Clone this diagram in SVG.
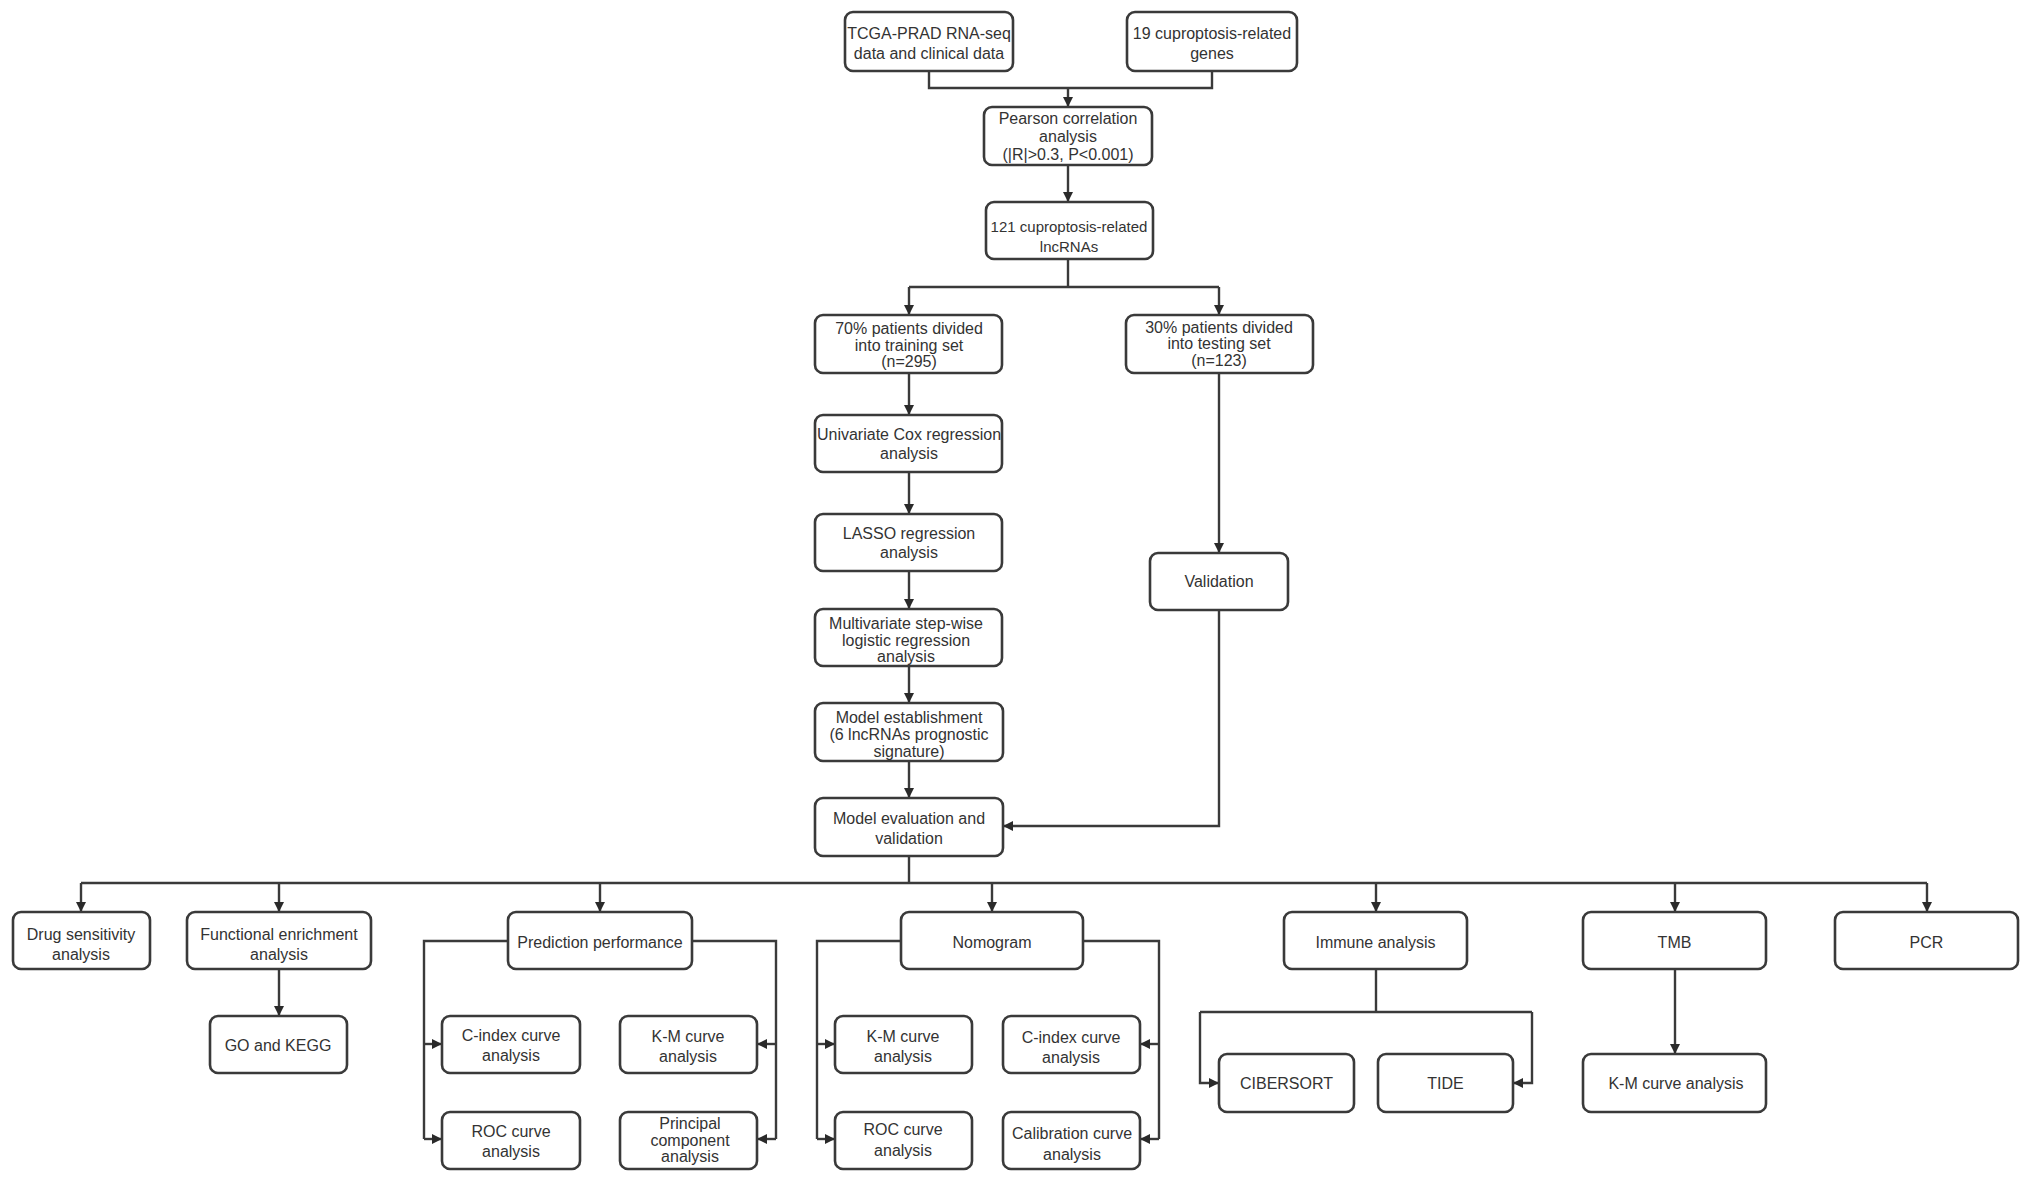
<svg xmlns="http://www.w3.org/2000/svg" width="2032" height="1181" viewBox="0 0 2032 1181">
<style>
.box{fill:#ffffff;stroke:#3a3a3a;stroke-width:2.6}
.t{font-family:"Liberation Sans",Arial,Helvetica,sans-serif;font-size:16px;fill:#333333;text-anchor:middle}
.s{font-size:15px}
.c{fill:none;stroke:#3a3a3a;stroke-width:2.4}
</style>
<defs>
<marker id="ah" viewBox="0 0 10 10" refX="10" refY="5" markerWidth="10" markerHeight="10" markerUnits="userSpaceOnUse" orient="auto">
<path d="M0,0 L10,5 L0,10 z" fill="#2a2a2a"/>
</marker>
</defs>
<rect width="2032" height="1181" fill="#ffffff"/>
<g id="connectors">
<path class="c" d="M929,71 V88 H1212 V71"/>
<path class="c" d="M1068,88 V107" marker-end="url(#ah)"/>
<path class="c" d="M1068,165 V202" marker-end="url(#ah)"/>
<path class="c" d="M1068,259 V287"/>
<path class="c" d="M909,287 H1219"/>
<path class="c" d="M909,287 V315" marker-end="url(#ah)"/>
<path class="c" d="M1219,287 V315" marker-end="url(#ah)"/>
<path class="c" d="M909,373 V415" marker-end="url(#ah)"/>
<path class="c" d="M909,472 V514" marker-end="url(#ah)"/>
<path class="c" d="M909,571 V609" marker-end="url(#ah)"/>
<path class="c" d="M909,666 V703" marker-end="url(#ah)"/>
<path class="c" d="M909,761 V798" marker-end="url(#ah)"/>
<path class="c" d="M1219,373 V553" marker-end="url(#ah)"/>
<path class="c" d="M1219,610 V826 H1003" marker-end="url(#ah)"/>
<path class="c" d="M909,856 V883"/>
<path class="c" d="M81,883 H1927"/>
<path class="c" d="M81,883 V912" marker-end="url(#ah)"/>
<path class="c" d="M279,883 V912" marker-end="url(#ah)"/>
<path class="c" d="M600,883 V912" marker-end="url(#ah)"/>
<path class="c" d="M992,883 V912" marker-end="url(#ah)"/>
<path class="c" d="M1376,883 V912" marker-end="url(#ah)"/>
<path class="c" d="M1675,883 V912" marker-end="url(#ah)"/>
<path class="c" d="M1927,883 V912" marker-end="url(#ah)"/>
<path class="c" d="M279,969 V1016" marker-end="url(#ah)"/>
<path class="c" d="M508,941 H424 V1139"/>
<path class="c" d="M424,1044 H442" marker-end="url(#ah)"/>
<path class="c" d="M424,1139 H442" marker-end="url(#ah)"/>
<path class="c" d="M692,941 H776 V1139"/>
<path class="c" d="M776,1044 H757" marker-end="url(#ah)"/>
<path class="c" d="M776,1139 H757" marker-end="url(#ah)"/>
<path class="c" d="M901,941 H817 V1139"/>
<path class="c" d="M817,1044 H835" marker-end="url(#ah)"/>
<path class="c" d="M817,1139 H835" marker-end="url(#ah)"/>
<path class="c" d="M1083,941 H1159 V1139"/>
<path class="c" d="M1159,1044 H1140" marker-end="url(#ah)"/>
<path class="c" d="M1159,1139 H1140" marker-end="url(#ah)"/>
<path class="c" d="M1376,969 V1012"/>
<path class="c" d="M1200,1012 H1532"/>
<path class="c" d="M1200,1012 V1083 H1219" marker-end="url(#ah)"/>
<path class="c" d="M1532,1012 V1083 H1513" marker-end="url(#ah)"/>
<path class="c" d="M1675,969 V1054" marker-end="url(#ah)"/>
</g>
<g id="n-tcga"><rect class="box" x="845" y="12" width="168" height="59" rx="8"/><text class="t"><tspan x="929" y="39">TCGA-PRAD RNA-seq</tspan><tspan x="929" y="59">data and clinical data</tspan></text></g>
<g id="n-genes"><rect class="box" x="1127" y="12" width="170" height="59" rx="8"/><text class="t"><tspan x="1212" y="39">19 cuproptosis-related</tspan><tspan x="1212" y="59">genes</tspan></text></g>
<g id="n-pearson"><rect class="box" x="984" y="107" width="168" height="58" rx="8"/><text class="t"><tspan x="1068" y="123.5">Pearson correlation</tspan><tspan x="1068" y="141.5">analysis</tspan><tspan x="1068" y="159.5">(|R|&gt;0.3, P&lt;0.001)</tspan></text></g>
<g id="n-lnc"><rect class="box" x="986" y="202" width="167" height="57" rx="8"/><text class="t s"><tspan x="1069" y="231.5">121 cuproptosis-related</tspan><tspan x="1069" y="251.5">lncRNAs</tspan></text></g>
<g id="n-train"><rect class="box" x="815" y="315" width="187" height="58" rx="8"/><text class="t"><tspan x="909" y="334">70% patients divided</tspan><tspan x="909" y="350.5">into training set</tspan><tspan x="909" y="367">(n=295)</tspan></text></g>
<g id="n-test"><rect class="box" x="1126" y="315" width="187" height="58" rx="8"/><text class="t"><tspan x="1219" y="332.5">30% patients divided</tspan><tspan x="1219" y="349">into testing set</tspan><tspan x="1219" y="365.5">(n=123)</tspan></text></g>
<g id="n-univ"><rect class="box" x="815" y="415" width="187" height="57" rx="8"/><text class="t"><tspan x="909" y="440">Univariate Cox regression</tspan><tspan x="909" y="459">analysis</tspan></text></g>
<g id="n-lasso"><rect class="box" x="815" y="514" width="187" height="57" rx="8"/><text class="t"><tspan x="909" y="539">LASSO regression</tspan><tspan x="909" y="558">analysis</tspan></text></g>
<g id="n-multi"><rect class="box" x="815" y="609" width="187" height="57" rx="8"/><text class="t"><tspan x="906" y="629">Multivariate step-wise</tspan><tspan x="906" y="645.5">logistic regression</tspan><tspan x="906" y="662">analysis</tspan></text></g>
<g id="n-valid"><rect class="box" x="1150" y="553" width="138" height="57" rx="8"/><text class="t" x="1219" y="587">Validation</text></g>
<g id="n-model"><rect class="box" x="815" y="703" width="188" height="58" rx="8"/><text class="t"><tspan x="909" y="723">Model establishment</tspan><tspan x="909" y="740">(6 lncRNAs prognostic</tspan><tspan x="909" y="756.5">signature)</tspan></text></g>
<g id="n-eval"><rect class="box" x="815" y="798" width="188" height="58" rx="8"/><text class="t"><tspan x="909" y="824">Model evaluation and</tspan><tspan x="909" y="844">validation</tspan></text></g>
<g id="n-drug"><rect class="box" x="13" y="912" width="137" height="57" rx="8"/><text class="t"><tspan x="81" y="940">Drug sensitivity</tspan><tspan x="81" y="960">analysis</tspan></text></g>
<g id="n-func"><rect class="box" x="187" y="912" width="184" height="57" rx="8"/><text class="t"><tspan x="279" y="940">Functional enrichment</tspan><tspan x="279" y="960">analysis</tspan></text></g>
<g id="n-go"><rect class="box" x="210" y="1016" width="137" height="57" rx="8"/><text class="t" x="278" y="1050.5">GO and KEGG</text></g>
<g id="n-pred"><rect class="box" x="508" y="912" width="184" height="57" rx="8"/><text class="t" x="600" y="947.5">Prediction performance</text></g>
<g id="n-cindex1"><rect class="box" x="442" y="1016" width="138" height="57" rx="8"/><text class="t"><tspan x="511" y="1040.5">C-index curve</tspan><tspan x="511" y="1061">analysis</tspan></text></g>
<g id="n-roc1"><rect class="box" x="442" y="1112" width="138" height="57" rx="8"/><text class="t"><tspan x="511" y="1137">ROC curve</tspan><tspan x="511" y="1157">analysis</tspan></text></g>
<g id="n-km1"><rect class="box" x="620" y="1016" width="137" height="57" rx="8"/><text class="t"><tspan x="688" y="1042">K-M curve</tspan><tspan x="688" y="1062">analysis</tspan></text></g>
<g id="n-pca"><rect class="box" x="620" y="1112" width="137" height="57" rx="8"/><text class="t"><tspan x="690" y="1129">Principal</tspan><tspan x="690" y="1145.5">component</tspan><tspan x="690" y="1162">analysis</tspan></text></g>
<g id="n-nomo"><rect class="box" x="901" y="912" width="182" height="57" rx="8"/><text class="t" x="992" y="948">Nomogram</text></g>
<g id="n-km2"><rect class="box" x="835" y="1016" width="137" height="57" rx="8"/><text class="t"><tspan x="903" y="1042">K-M curve</tspan><tspan x="903" y="1062">analysis</tspan></text></g>
<g id="n-cindex2"><rect class="box" x="1003" y="1016" width="137" height="57" rx="8"/><text class="t"><tspan x="1071" y="1043">C-index curve</tspan><tspan x="1071" y="1063">analysis</tspan></text></g>
<g id="n-roc2"><rect class="box" x="835" y="1112" width="137" height="57" rx="8"/><text class="t"><tspan x="903" y="1135">ROC curve</tspan><tspan x="903" y="1156">analysis</tspan></text></g>
<g id="n-calib"><rect class="box" x="1003" y="1112" width="137" height="57" rx="8"/><text class="t"><tspan x="1072" y="1139">Calibration curve</tspan><tspan x="1072" y="1160">analysis</tspan></text></g>
<g id="n-immune"><rect class="box" x="1284" y="912" width="183" height="57" rx="8"/><text class="t" x="1375.5" y="948">Immune analysis</text></g>
<g id="n-cibersort"><rect class="box" x="1219" y="1054" width="135" height="58" rx="8"/><text class="t" x="1286.5" y="1089">CIBERSORT</text></g>
<g id="n-tide"><rect class="box" x="1378" y="1054" width="135" height="58" rx="8"/><text class="t" x="1445.5" y="1089">TIDE</text></g>
<g id="n-tmb"><rect class="box" x="1583" y="912" width="183" height="57" rx="8"/><text class="t" x="1674.5" y="948">TMB</text></g>
<g id="n-km3"><rect class="box" x="1583" y="1054" width="183" height="58" rx="8"/><text class="t" x="1676" y="1089">K-M curve analysis</text></g>
<g id="n-pcr"><rect class="box" x="1835" y="912" width="183" height="57" rx="8"/><text class="t" x="1926.5" y="948">PCR</text></g>
</svg>
